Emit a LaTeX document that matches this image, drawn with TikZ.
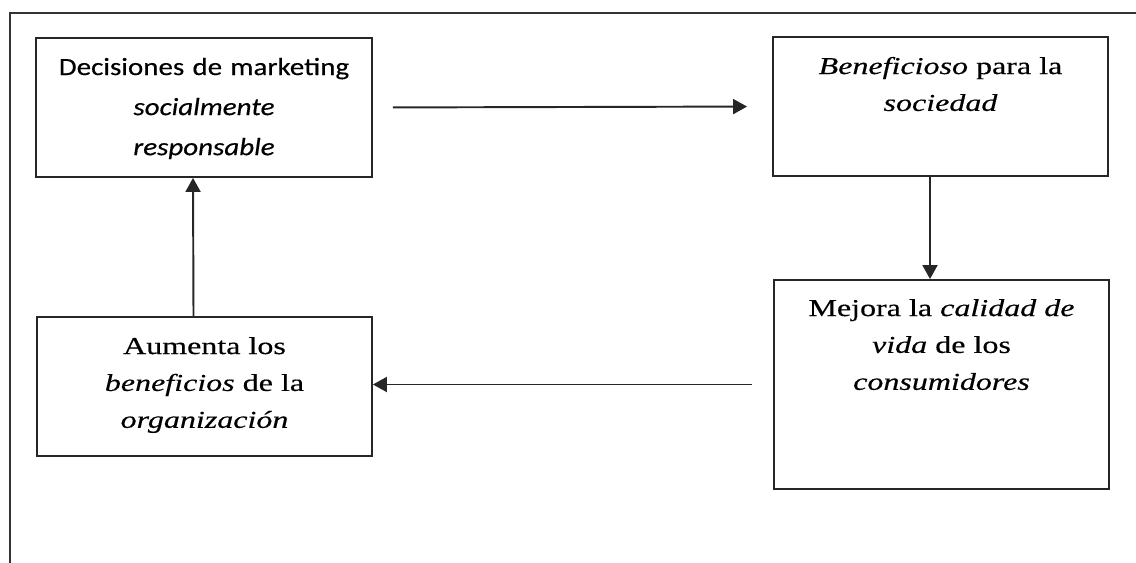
\documentclass[tikz,border=0pt]{standalone}
\usepackage{fontspec}
\setmainfont{Liberation Serif}[FakeStretch=1.32, FakeBold=0.4]
\newfontfamily\sansboxfont{Carlito}[FakeStretch=1.17, FakeBold=0.4]
\usetikzlibrary{arrows.meta,positioning}

\begin{document}
\begin{tikzpicture}[x=0.02cm, y=-0.02cm,
            box/.style={rectangle, draw=black!85, line width=1.1pt, minimum width=6.7cm,
            minimum height=2.78cm, inner sep=0pt},
            boxtext/.style={anchor=base, text width=6.2cm, align=center, inner sep=0pt,
            text=black, font=\fontsize{13.8pt}{21pt}\selectfont},
            flow/.style={-{Triangle[length=0.28cm,width=0.3cm]}, draw=black!85, line width=1.1pt}]
            \useasboundingbox (0,0) rectangle (1136,563);
            % outer frame, only top and left edges show
            \draw[black!80, line width=1pt] (1136,13) -- (10,13) -- (10,563);

            \node (dec) [box, minimum width=6.72cm] at (204,107.5) {};
            \node (ben) [box] at (940.5,106.5) {};
            \node (aum) [box] at (204.5,386.5) {};
            \node (mej) [box, minimum height=4.18cm] at (941.5,384.5) {};

            \node (dectext) [boxtext, font=\sansboxfont\fontsize{14.1pt}{22.8pt}\selectfont]
                at ([yshift=-0.76cm]dec.north)
                {Decisiones de marketing\\ \textit{socialmente}\\ \textit{responsable}};
            \node (bentext) [boxtext] at ([yshift=-0.76cm]ben.north)
                {\textit{Beneficioso} para la\\ \textit{sociedad}};
            \node (aumtext) [boxtext] at ([yshift=-0.76cm]aum.north)
                {Aumenta los\\ \textit{beneficios} de la\\ \textit{organización}};
            \node (mejtext) [boxtext] at ([yshift=-0.74cm]mej.north)
                {Mejora la \textit{calidad de}\\ \textit{vida} de los\\ \textit{consumidores}};

            \draw[flow, shorten <=0.4cm, shorten >=0.5cm] (dec.east) -- (ben.west);
            \draw[flow] ([xshift=-0.21cm]ben.south) -- ([xshift=-0.23cm]mej.north);
            \draw[flow, shorten <=0.42cm] (mej.west) -- (aum.east |- mej.west);
            \draw[flow] ([xshift=-0.22cm]aum.north) -- ([xshift=-0.22cm]dec.south);
        \end{tikzpicture}
\end{document}
